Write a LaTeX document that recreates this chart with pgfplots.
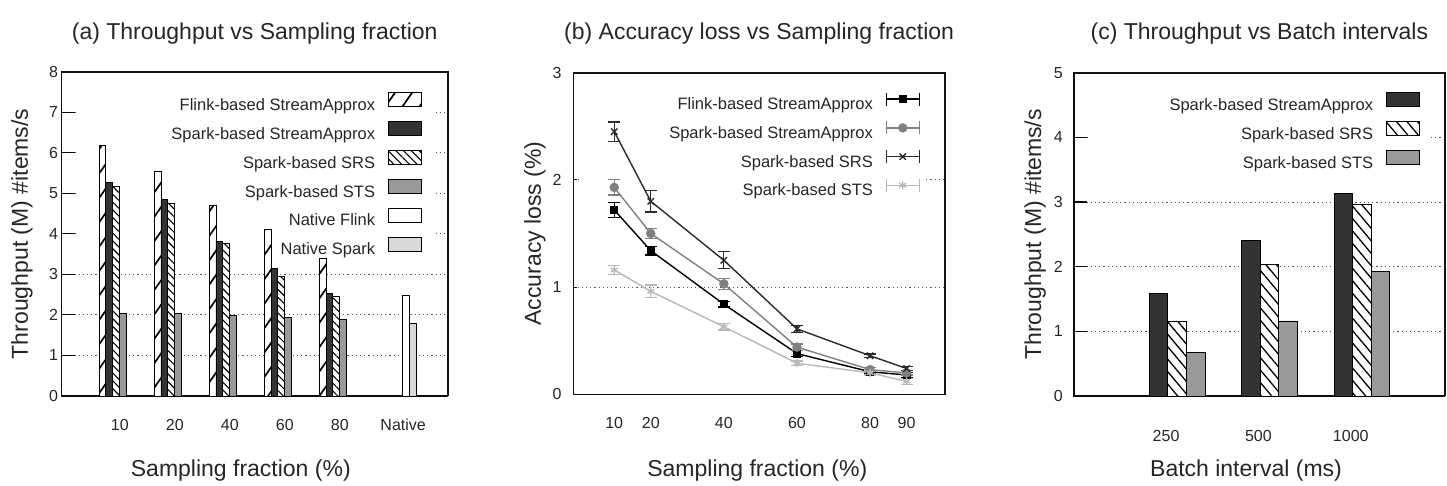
\documentclass[border=0pt]{standalone}
\usepackage{fontspec}
\setmainfont{Liberation Sans}
\usepackage{pgfplots}
\pgfplotsset{compat=1.18}
\usetikzlibrary{patterns.meta}
\definecolor{darkbar}{HTML}{333333}
\definecolor{stsbar}{HTML}{999999}
\definecolor{nspark}{HTML}{D9D9D9}
\definecolor{gridc}{HTML}{555555}
\definecolor{sparkline}{HTML}{808080}
\definecolor{stsline}{HTML}{B8B8B8}
\definecolor{srsline}{HTML}{2A2A2A}
\definecolor{frameblk}{HTML}{0C0C0C}
\definecolor{frameA}{HTML}{151515}
\definecolor{cover}{HTML}{FFFFFF}
\pgfplotsset{
  barleg/.style={legend image code/.code={\draw[##1] (0pt,-1.3pt) rectangle (33pt,12.7pt);}},
  errleg/.style={legend image code/.code={%
     \draw[##1,mark=none] (0pt,5.7pt) -- (33pt,5.7pt);
     \draw[##1,mark=none] (0pt,-0.8pt) -- (0pt,12.2pt) (33pt,-0.8pt) -- (33pt,12.2pt);
     \draw[##1,only marks] plot coordinates {(16.5pt,5.7pt)};}},
  common/.style={
    scale only axis, clip=false, axis lines=box, axis line style={line width=1.1pt, frameblk},
    font=\fontsize{16}{19}\selectfont,
    /pgf/number format/assume math mode=true,
    ymin=0,
    ytick pos=left, tick align=inside, major tick length=13pt,
    ytick style={line width=1.1pt, frameblk},
    xtick style={draw=none},
    ymajorgrids, grid style={gridc, line width=1pt, dash pattern=on 1.2pt off 3pt},
    tick label style={text=black!85},
    xticklabel style={inner ysep=0pt, yshift=-10pt},
    every axis title/.style={at={(0.5,1)}, anchor=base, font=\fontsize{23}{27}\selectfont, text=black!85},
    legend cell align=right, legend plot pos=right,
    legend style={draw=none, fill=none, anchor=north east, inner sep=0pt, outer sep=0pt,
       row sep=7.8pt, column sep=12.7pt, font=\fontsize{16.5}{19}\selectfont, text=black!85,
       nodes={inner sep=0pt, text height=13pt, text depth=3pt}},
  },
  flinkhatch/.style={fill=white, draw=black, line width=0.9pt, postaction={pattern={Lines[angle=55,distance=14pt,line width=1.7pt]}}},
  srshatchA/.style={fill=white, draw=black, line width=0.9pt, postaction={pattern={Lines[angle=-45,distance=5.5pt,line width=1.1pt]}}},
  srshatchC/.style={fill=white, draw=black, line width=0.9pt, postaction={pattern={Lines[angle=-50,distance=8pt,line width=1.3pt]}}},
}
\begin{document}
\begin{tikzpicture}
\useasboundingbox (0,0) rectangle (1447pt,486pt);
% ---------------- (a)
\begin{axis}[common,
  at={(61.7pt,90pt)}, anchor=south west,
  width=386pt, height=324.3pt,
  xmin=-1.055, xmax=5.96, ymax=8, ytick={0,1,...,8},
  xtick={0,1,2,3,4,5.15}, xticklabels={10,20,40,60,80,Native},
  yticklabel style={inner xsep=0pt, xshift=-3.5pt},
  ybar=0pt, bar width=0.1255, barleg,
  title={(a) Throughput vs Sampling fraction},
  title style={yshift=32.4pt},
  xlabel={Sampling fraction (\%)},
  every axis x label/.style={at={(axis description cs:0.464,0)}, anchor=base, yshift=-81pt, font=\fontsize{23}{27}\selectfont, text=black!85},
  ylabel={Throughput (M) \#items/s},
  every axis y label/.style={at={(axis description cs:-0.1028,0.5)}, rotate=90, anchor=center, font=\fontsize{23}{27}\selectfont, text=black!85},
  legend style={at={(axis description cs:0.9326,0.9374)}},
]
\path[fill=cover, draw=none] (rel axis cs:0.036,0.45) rectangle (rel axis cs:0.962,0.98);
\addplot[flinkhatch] coordinates {(0,6.19) (1,5.53) (2,4.69) (3,4.11) (4,3.39)};
\addlegendentry{Flink-based StreamApprox}
\addplot[fill=darkbar, draw=black, line width=0.9pt] coordinates {(0,5.26) (1,4.85) (2,3.82) (3,3.14) (4,2.52)};
\addlegendentry{Spark-based StreamApprox}
\addplot[srshatchA] coordinates {(0,5.18) (1,4.75) (2,3.76) (3,2.96) (4,2.46)};
\addlegendentry{Spark-based SRS}
\addplot[fill=stsbar, draw=black, line width=0.9pt] coordinates {(0,2.04) (1,2.04) (2,1.99) (3,1.93) (4,1.89)};
\addlegendentry{Spark-based STS}
\addplot[fill=white, draw=black, line width=0.9pt] coordinates {(5.02,2.48)};
\addlegendentry{Native Flink}
\addplot[fill=nspark, draw=black, line width=0.9pt] coordinates {(5.02,1.78)};
\addlegendentry{Native Spark}
\end{axis}
\draw[frameA, line width=2.2pt] (61.7pt,414.3pt) -- (447.7pt,414.3pt) -- (447.7pt,90pt);
% ---------------- (b)
\begin{axis}[common,
  at={(573.3pt,91.7pt)}, anchor=south west,
  width=371.7pt, height=321.6pt,
  xmin=-1.2, xmax=100.5, ymax=3, ytick={0,1,2,3},
  xtick={10,20,40,60,80,90},
  major tick length=4pt,
  xticklabel style={inner ysep=0pt, yshift=-12.4pt},
  yticklabel style={inner xsep=0pt, xshift=-11.5pt},
  errleg,
  title={(b) Accuracy loss vs Sampling fraction},
  title style={yshift=33.4pt},
  xlabel={Sampling fraction (\%)},
  every axis x label/.style={at={(axis description cs:0.495,0)}, anchor=base, yshift=-82.7pt, font=\fontsize{23}{27}\selectfont, text=black!85},
  ylabel={Accuracy loss (\%)},
  every axis y label/.style={at={(axis description cs:-0.103,0.5)}, rotate=90, anchor=center, font=\fontsize{23}{27}\selectfont, text=black!85},
  legend style={at={(axis description cs:0.9327,0.940)}},
  every axis plot/.append style={line width=1.4pt},
  error bars/y dir=both, error bars/y explicit,
  error bars/error bar style={line width=1.2pt, solid},
  error bars/error mark=-,
  error bars/error mark options={rotate=90, mark size=6pt, line width=1.2pt},
]
\path[fill=cover, draw=none] (rel axis cs:0.02,0.5) rectangle (rel axis cs:0.949,0.98);
\addplot[color=black, mark=square*, mark size=3.3pt] coordinates {
 (10,1.72) +- (0,0.07) (20,1.34) +- (0,0.04) (40,0.84) +- (0,0.025) (60,0.38) +- (0,0.03) (80,0.21) +- (0,0.015) (90,0.18) +- (0,0.02)};
\addlegendentry{Flink-based StreamApprox}
\addplot[color=sparkline, mark=*, mark size=4pt] coordinates {
 (10,1.93) +- (0,0.07) (20,1.50) +- (0,0.05) (40,1.03) +- (0,0.05) (60,0.44) +- (0,0.03) (80,0.23) +- (0,0.02) (90,0.20) +- (0,0.02)};
\addlegendentry{Spark-based StreamApprox}
\addplot[color=srsline, mark=x, mark size=4.5pt] coordinates {
 (10,2.45) +- (0,0.09) (20,1.80) +- (0,0.10) (40,1.25) +- (0,0.08) (60,0.61) +- (0,0.03) (80,0.36) +- (0,0.015) (90,0.24) +- (0,0.02)};
\addlegendentry{Spark-based SRS}
\addplot[color=stsline, mark=asterisk, mark size=4pt] coordinates {
 (10,1.16) +- (0,0.04) (20,0.96) +- (0,0.06) (40,0.63) +- (0,0.03) (60,0.29) +- (0,0.02) (80,0.20) +- (0,0.02) (90,0.12) +- (0,0.03)};
\addlegendentry{Spark-based STS}
\end{axis}
\draw[frameA, line width=2.2pt] (573.3pt,413.3pt) -- (945pt,413.3pt) -- (945pt,91.7pt);
% ---------------- (c)
\begin{axis}[common,
  at={(1074pt,90pt)}, anchor=south west,
  width=370.7pt, height=323.3pt,
  xmin=-1.117, xmax=2.897, ymax=5, ytick={0,1,...,5},
  xtick={-0.12,0.88,1.88}, xticklabels={250,500,1000},
  xticklabel style={inner ysep=0pt, yshift=-11pt},
  yticklabel style={inner xsep=0pt, xshift=-11pt},
  ybar=0pt, bar width=0.201, barleg,
  title={(c) Throughput vs Batch intervals},
  title style={yshift=33.4pt},
  xlabel={Batch interval (ms)},
  every axis x label/.style={at={(axis description cs:0.464,0)}, anchor=base, yshift=-81pt, font=\fontsize{23}{27}\selectfont, text=black!85},
  ylabel={Throughput (M) \#items/s},
  every axis y label/.style={at={(axis description cs:-0.105,0.5)}, rotate=90, anchor=center, font=\fontsize{23}{27}\selectfont, text=black!85},
  legend style={at={(axis description cs:0.9326,0.940)}},
]
\path[fill=cover, draw=none] (rel axis cs:0.038,0.7) rectangle (rel axis cs:0.96,0.98);
\addplot[fill=darkbar, draw=black, line width=0.9pt] coordinates {(0,1.58) (1,2.40) (2,3.13)};
\addlegendentry{Spark-based StreamApprox}
\addplot[srshatchC] coordinates {(0,1.16) (1,2.04) (2,2.96)};
\addlegendentry{Spark-based SRS}
\addplot[fill=stsbar, draw=black, line width=0.9pt] coordinates {(0,0.67) (1,1.16) (2,1.93)};
\addlegendentry{Spark-based STS}
\end{axis}
\draw[frameA, line width=2.2pt] (1074pt,413.3pt) -- (1444.7pt,413.3pt) -- (1444.7pt,90pt);
\end{tikzpicture}
\end{document}
